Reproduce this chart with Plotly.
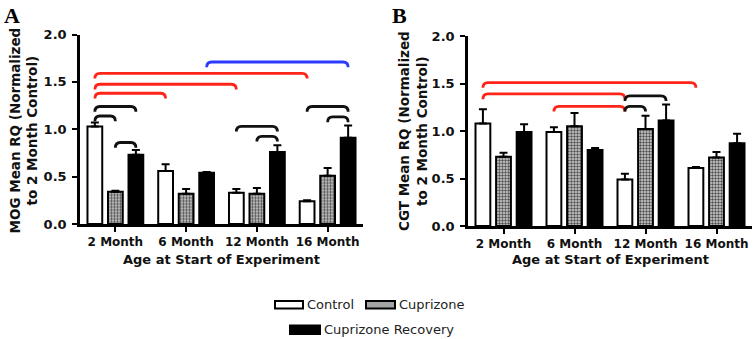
import plotly.graph_objects as go

# ---------------- data ----------------
categories = ["2 Month", "6 Month", "12 Month", "16 Month"]
series_names = ["Control", "Cuprizone", "Cuprizone Recovery"]

mog_control = [1.03, 0.56, 0.33, 0.24]
mog_control_err = [0.04, 0.07, 0.04, 0.01]
mog_cuprizone = [0.34, 0.32, 0.32, 0.51]
mog_cuprizone_err = [0.01, 0.05, 0.06, 0.08]
mog_recovery = [0.73, 0.54, 0.76, 0.91]
mog_recovery_err = [0.05, 0.01, 0.07, 0.13]

cgt_control = [1.08, 0.99, 0.49, 0.61]
cgt_control_err = [0.15, 0.05, 0.06, 0.01]
cgt_cuprizone = [0.73, 1.05, 1.02, 0.72]
cgt_cuprizone_err = [0.04, 0.14, 0.14, 0.06]
cgt_recovery = [0.99, 0.80, 1.11, 0.87]
cgt_recovery_err = [0.08, 0.02, 0.17, 0.10]

# significance brackets: (category_a, series_a, category_b, series_b, level, colour)
mog_brackets = [
    (0, 0, 0, 1, 1.14, "black"),
    (0, 0, 0, 2, 1.24, "black"),
    (0, 1, 0, 2, 0.86, "black"),
    (2, 0, 2, 2, 1.03, "black"),
    (2, 1, 2, 2, 0.925, "black"),
    (3, 0, 3, 2, 1.24, "black"),
    (3, 1, 3, 2, 1.13, "black"),
    (0, 0, 1, 0, 1.38, "red"),
    (0, 0, 2, 0, 1.475, "red"),
    (0, 0, 3, 0, 1.59, "red"),
    (1, 2, 3, 2, 1.71, "blue"),
]
cgt_brackets = [
    (0, 0, 3, 0, 1.51, "red"),
    (0, 0, 2, 0, 1.39, "red"),
    (1, 0, 2, 0, 1.26, "red"),
    (2, 0, 2, 2, 1.37, "black"),
    (2, 0, 2, 1, 1.26, "black"),
]

# ---------------- styling ----------------
W, H = 756, 339
BARGAP = 0.13
BARGROUPGAP = 0.28
SLOT = (1 - BARGAP) / 3
COLORS = {"black": "#111111", "red": "#ff2418", "blue": "#2b3bff"}
FONT = "DejaVu Sans"

xs = list(range(len(categories)))

fig = go.Figure()


def add_panel(vals, errs, xa, ya):
    styles = [
        dict(color="white", line=dict(color="black", width=2)),
        dict(color="#b0b0b0", line=dict(color="black", width=2),
             pattern=dict(shape=".", fgcolor="#505050", bgcolor="#d4d4d4",
                          size=3, solidity=0.5, fillmode="replace")),
        dict(color="black", line=dict(color="black", width=2)),
    ]
    for name, v, e, st in zip(series_names, vals, errs, styles):
        fig.add_trace(go.Bar(
            x=xs, y=v, name=name, xaxis=xa, yaxis=ya, marker=st,
            showlegend=False,
            error_y=dict(type="data", array=e, arrayminus=[0] * len(e),
                         symmetric=False, color="black", thickness=2, width=4),
        ))


add_panel([mog_control, mog_cuprizone, mog_recovery],
          [mog_control_err, mog_cuprizone_err, mog_recovery_err], "x", "y")
add_panel([cgt_control, cgt_cuprizone, cgt_recovery],
          [cgt_control_err, cgt_cuprizone_err, cgt_recovery_err], "x2", "y2")


def bar_x(cat, ser):
    return cat + (ser - 1) * SLOT


def bracket_shapes(brackets, xref, yref):
    out = []
    dx, dy = 0.07, 0.055
    for ca, sa, cb, sb, lvl, col in brackets:
        x0, x1 = bar_x(ca, sa), bar_x(cb, sb)
        path = (f"M {x0},{lvl - dy} Q {x0},{lvl} {x0 + dx},{lvl} "
                f"L {x1 - dx},{lvl} Q {x1},{lvl} {x1},{lvl - dy}")
        out.append(dict(type="path", path=path, xref=xref, yref=yref,
                        line=dict(color=COLORS[col], width=2.8), layer="above"))
    return out


shapes = bracket_shapes(mog_brackets, "x", "y") + bracket_shapes(cgt_brackets, "x2", "y2")


def px(x):
    return x / W


def py(y):
    return 1 - y / H


legend_items = [
    (275, 301, 303, 308.5, "white", series_names[0]),
    (366, 301, 395, 308.5, "#a4a4a4", series_names[1]),
    (290, 325.5, 320, 334, "black", series_names[2]),
]
for x0, y0, x1, y1, fc, _ in legend_items:
    shapes.append(dict(type="rect", xref="paper", yref="paper",
                       x0=px(x0), x1=px(x1), y0=py(y1), y1=py(y0),
                       fillcolor=fc, line=dict(color="black", width=2)))

annotations = []
for x0, y0, x1, y1, fc, label in legend_items:
    annotations.append(dict(text=label, x=px(x1 + 2), y=py((y0 + y1) / 2),
                            xref="paper", yref="paper", xanchor="left",
                            yanchor="middle", showarrow=False,
                            font=dict(family=FONT, size=13, color="#222")))

ytitles = [("MOG Mean RQ (Normalized<br>to 2 Month Control)", 23.5),
           ("CGT Mean RQ (Normalized<br>to 2 Month Control)", 413)]
for txt, xc in ytitles:
    annotations.append(dict(text=txt, x=px(xc), y=py(131), xref="paper",
                            yref="paper", xanchor="center", yanchor="middle",
                            textangle=-90, showarrow=False,
                            font=dict(family=FONT, size=13.5, weight="bold", color="#111")))
for xc in (221.5, 610):
    annotations.append(dict(text="Age at Start of Experiment", x=px(xc), y=py(259),
                            xref="paper", yref="paper", xanchor="center",
                            yanchor="middle", showarrow=False,
                            font=dict(family=FONT, size=13, weight="bold", color="#111")))
for letter, xl in (("A", 2), ("B", 390)):
    annotations.append(dict(text=letter, x=px(xl), y=py(1), xref="paper",
                            yref="paper", xanchor="left", yanchor="top",
                            showarrow=False,
                            font=dict(family="Liberation Serif", size=22,
                                      weight="bold", color="black")))

xaxis_common = dict(range=[-0.5, 3.5], tickvals=xs, ticktext=categories,
                    showline=True, linecolor="black", linewidth=2.5,
                    ticks="outside", ticklen=5, tickwidth=2, tickcolor="black",
                    showgrid=False, zeroline=False, fixedrange=True, automargin=False,
                    tickfont=dict(family=FONT, size=12, weight="bold", color="#111"))
yaxis_common = dict(range=[0, 2.0], tickvals=[0, 0.5, 1.0, 1.5, 2.0],
                    ticktext=["0.0", "0.5", "1.0", "1.5", "2.0"],
                    showline=True, linecolor="black", linewidth=2.5,
                    ticks="outside", ticklen=5, tickwidth=2, tickcolor="black",
                    showgrid=False, zeroline=False, fixedrange=True, automargin=False,
                    ticklabelstandoff=3,
                    tickfont=dict(family=FONT, size=13, weight="bold", color="#111"))

fig.update_layout(
    template="none",
    width=W, height=H, autosize=False,
    margin=dict(l=0, r=0, t=0, b=0, pad=0),
    paper_bgcolor="white", plot_bgcolor="white",
    barmode="group", bargap=BARGAP, bargroupgap=BARGROUPGAP,
    showlegend=False,
    xaxis=dict(domain=[80 / W, 363 / W], anchor="y", **xaxis_common),
    yaxis=dict(domain=[py(224), py(34.5)], anchor="x", **yaxis_common),
    xaxis2=dict(domain=[468 / W, 752 / W], anchor="y2", **xaxis_common),
    yaxis2=dict(domain=[py(226), py(36)], anchor="x2", **yaxis_common),
    shapes=shapes,
    annotations=annotations,
)

fig.write_html("out.html", config={"displayModeBar": False},
               post_script="document.body.style.margin='0';")
